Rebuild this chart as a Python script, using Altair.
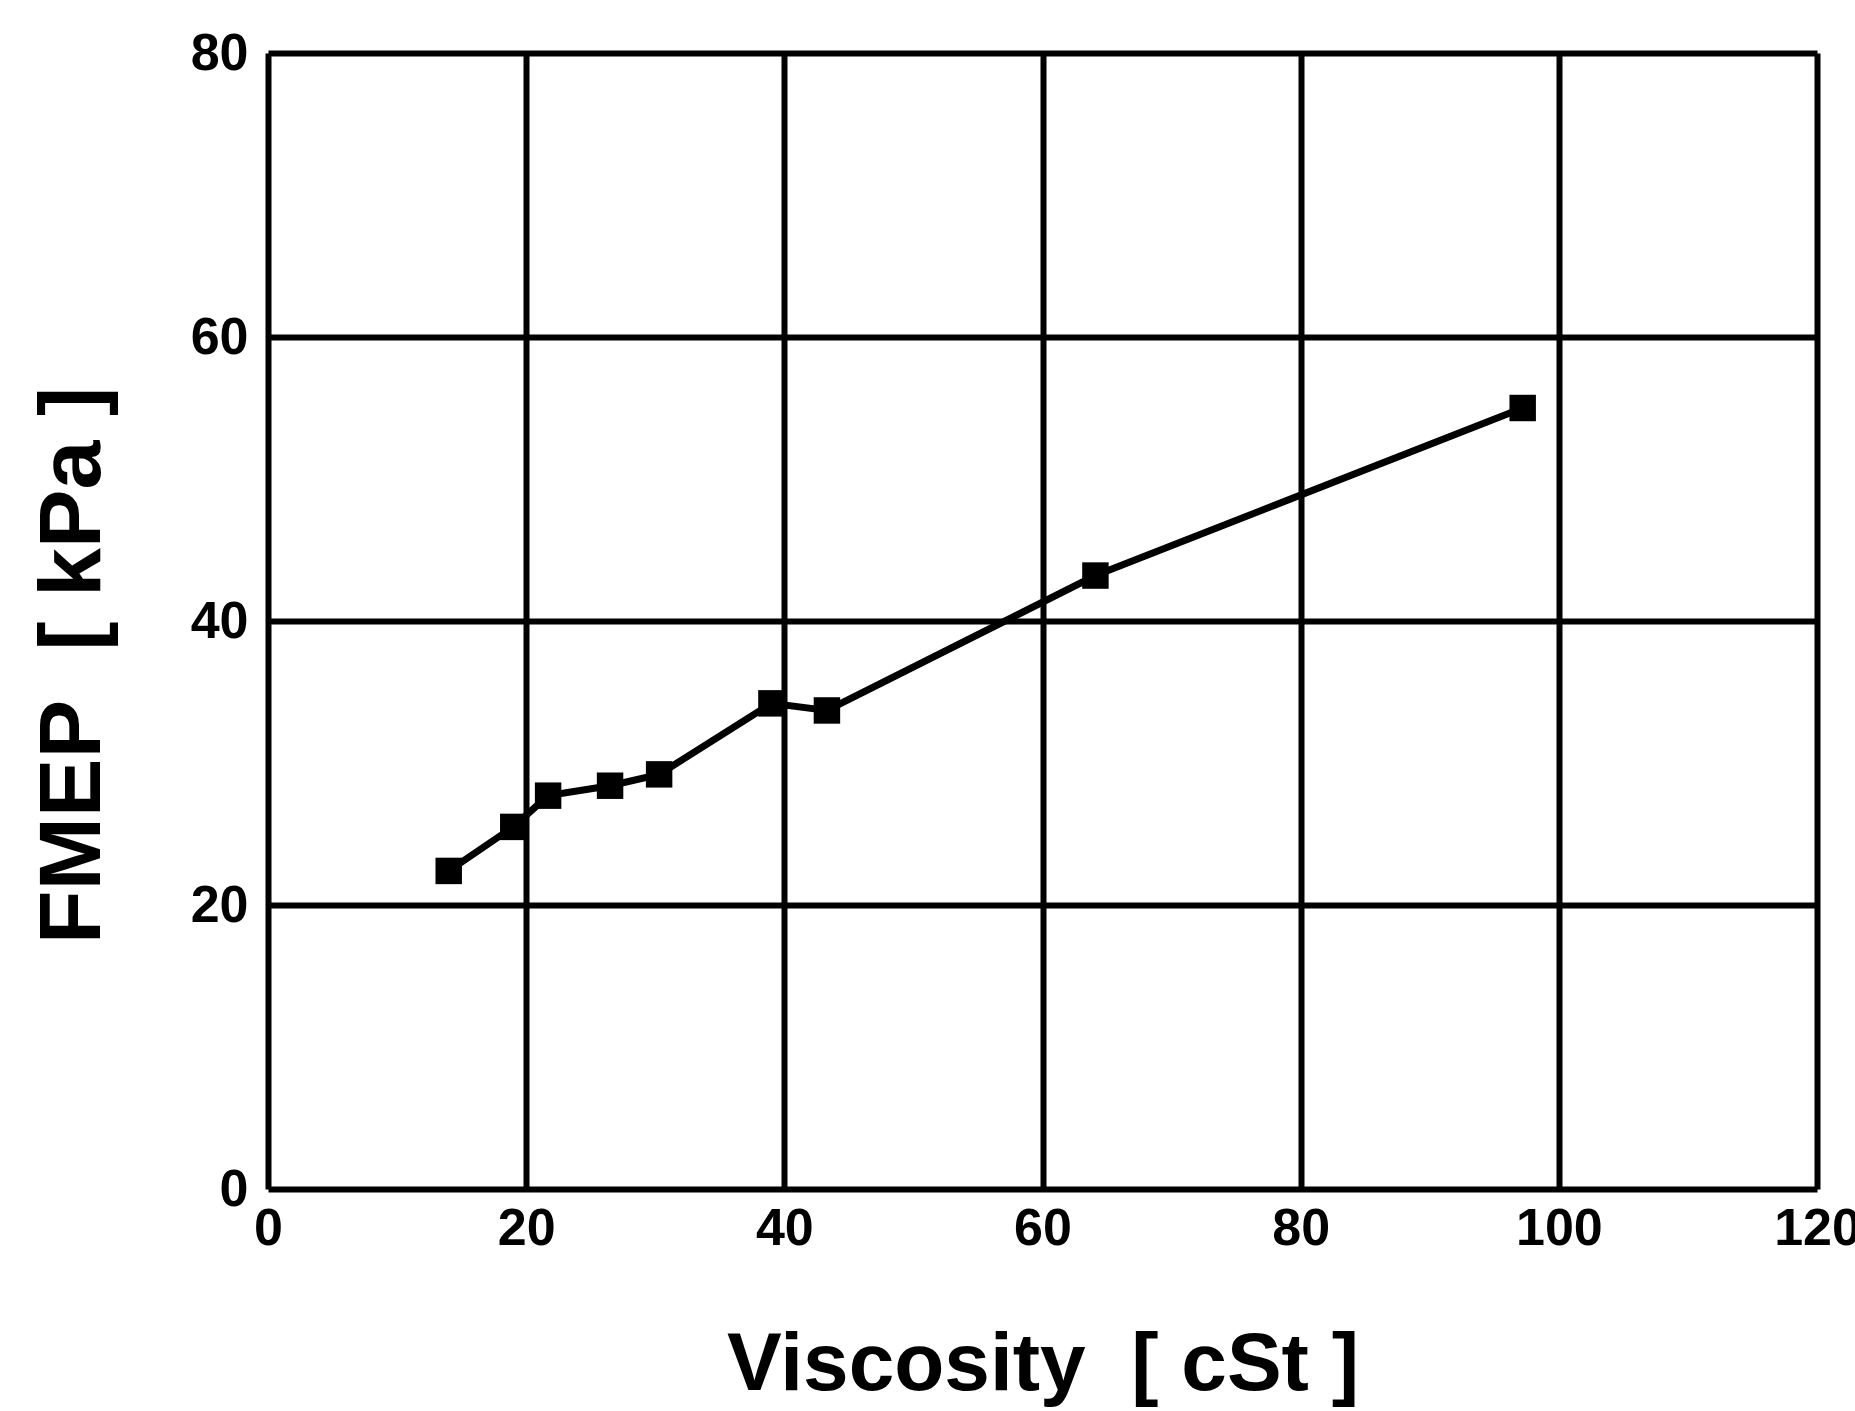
import altair as alt
import pandas as pd

viscosity = [14.0, 19.0, 21.7, 26.5, 30.3, 39.0, 43.3, 64.1, 97.2]
fmep = [22.4, 25.5, 27.7, 28.4, 29.2, 34.2, 33.7, 43.2, 55.0]
x_ticks = [0, 20, 40, 60, 80, 100, 120]
y_ticks = [0, 20, 40, 60, 80]

df = pd.DataFrame({"Viscosity": viscosity, "FMEP": fmep})

FONT = "Liberation Sans, Arial, sans-serif"

x_enc = alt.X(
    "Viscosity:Q",
    scale=alt.Scale(domain=[0, 120], nice=False),
    axis=alt.Axis(
        values=x_ticks,
        title="Viscosity\u00a0\u00a0[ cSt ]",
        titleFont=FONT,
        titleFontSize=82,
        titleFontWeight="bold",
        titleColor="black",
        titleBaseline="alphabetic",
        titleY=200,
        labelFont=FONT,
        labelFontSize=52,
        labelFontWeight="bold",
        labelColor="black",
        labelBaseline="top",
        labelPadding=14,
        labelFlush=False,
        labelOverlap=False,
        ticks=False,
        domain=False,
        grid=True,
        gridColor="black",
        gridWidth=6,
        gridOpacity=1,
    ),
)
y_enc = alt.Y(
    "FMEP:Q",
    scale=alt.Scale(domain=[0, 80], nice=False),
    axis=alt.Axis(
        values=y_ticks,
        title="FMEP\u00a0\u00a0[ kPa ]",
        titleFont=FONT,
        titleFontSize=88,
        titleFontWeight="bold",
        titleColor="black",
        titleAngle=270,
        titleAlign="center",
        titleBaseline="middle",
        titleX=-195,
        titleY=612,
        labelFont=FONT,
        labelFontSize=52,
        labelFontWeight="bold",
        labelColor="black",
        labelBaseline="middle",
        labelPadding=20,
        labelFlush=False,
        labelOverlap=False,
        ticks=False,
        domain=False,
        grid=True,
        gridColor="black",
        gridWidth=6,
        gridOpacity=1,
    ),
)

line = alt.Chart(df).mark_line(color="black", strokeWidth=7).encode(x=x_enc, y=y_enc)
points = alt.Chart(df).mark_square(color="black", size=700, opacity=1).encode(
    x="Viscosity:Q", y="FMEP:Q"
)

chart = (
    alt.layer(line, points)
    .properties(
        width=1549,
        height=1136,
        autosize=alt.AutoSizeParams(type="none"),
        padding={"left": 268, "top": 53, "right": 38, "bottom": 222},
    )
    .configure_view(stroke="black", strokeWidth=9)
    .configure(background="white")
)

chart.save("out.html", embed_options={"renderer": "svg", "actions": False})
